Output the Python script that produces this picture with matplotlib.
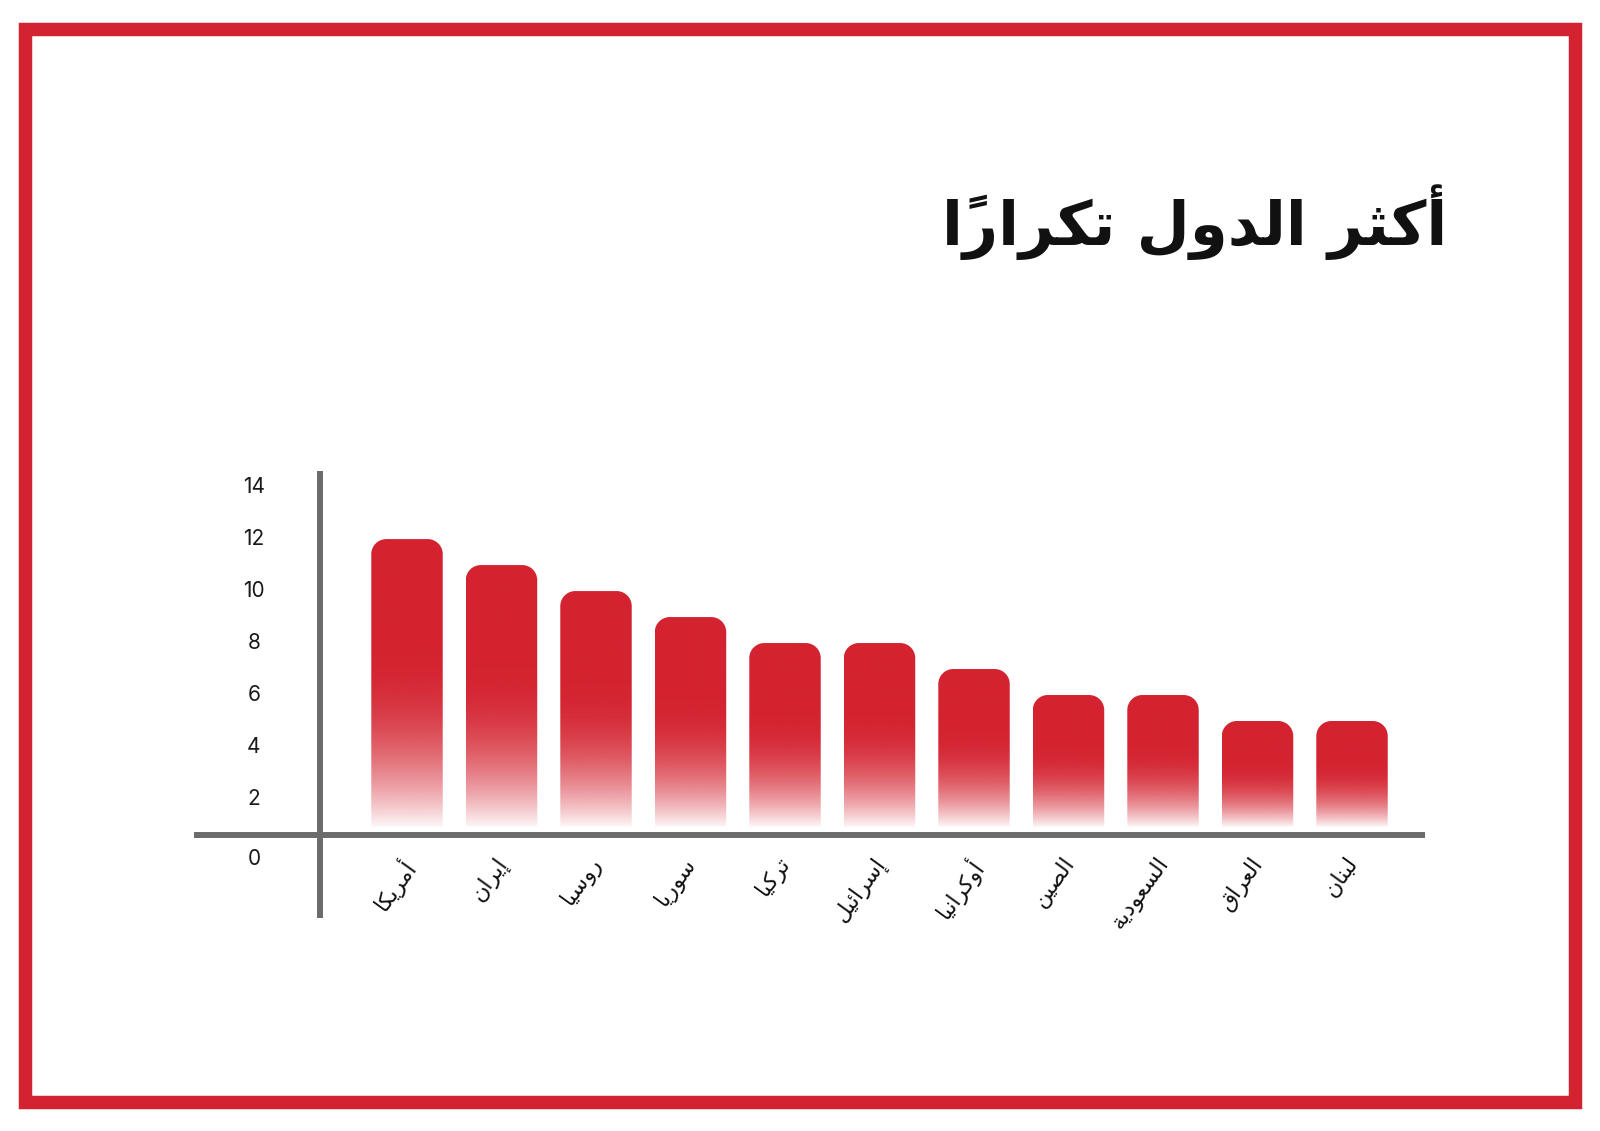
import numpy as np
import matplotlib
matplotlib.use("Agg")
import matplotlib.pyplot as plt
from matplotlib.path import Path
from matplotlib.patches import PathPatch, Rectangle
from matplotlib import transforms

# data
countries = ['أمريكا', 'إيران', 'روسيا', 'سوريا', 'تركيا', 'إسرائيل',
             'أوكرانيا', 'الصين', 'السعودية', 'العراق', 'لبنان']
counts = [12, 11, 10, 9, 8, 8, 7, 6, 6, 5, 5]
y_ticks = [0, 2, 4, 6, 8, 10, 12, 14]
title = 'أكثر الدول تكرارًا'

RED = '#d42330'
GREY = '#6b6b6b'

# matplotlib has no arabic shaping, so pick the presentation forms by hand
ARABIC_FORMS = {
    'ء': (0xFE80, 1), 'آ': (0xFE81, 2), 'أ': (0xFE83, 2), 'ؤ': (0xFE85, 2),
    'إ': (0xFE87, 2), 'ئ': (0xFE89, 4), 'ا': (0xFE8D, 2), 'ب': (0xFE8F, 4),
    'ة': (0xFE93, 2), 'ت': (0xFE95, 4), 'ث': (0xFE99, 4), 'ج': (0xFE9D, 4),
    'ح': (0xFEA1, 4), 'خ': (0xFEA5, 4), 'د': (0xFEA9, 2), 'ذ': (0xFEAB, 2),
    'ر': (0xFEAD, 2), 'ز': (0xFEAF, 2), 'س': (0xFEB1, 4), 'ش': (0xFEB5, 4),
    'ص': (0xFEB9, 4), 'ض': (0xFEBD, 4), 'ط': (0xFEC1, 4), 'ظ': (0xFEC5, 4),
    'ع': (0xFEC9, 4), 'غ': (0xFECD, 4), 'ف': (0xFED1, 4), 'ق': (0xFED5, 4),
    'ك': (0xFED9, 4), 'ل': (0xFEDD, 4), 'م': (0xFEE1, 4), 'ن': (0xFEE5, 4),
    'ه': (0xFEE9, 4), 'و': (0xFEED, 2), 'ى': (0xFEEF, 2), 'ي': (0xFEF1, 4),
}
LAM_ALEF = {'آ': 0xFEF5, 'أ': 0xFEF7, 'إ': 0xFEF9, 'ا': 0xFEFB}
MARKS = set(chr(c) for c in range(0x064B, 0x0653))


def shape_arabic(text):
    # group letters with their diacritics
    clusters = []
    for ch in text:
        if ch in MARKS and clusters:
            clusters[-1][1] += ch
        else:
            clusters.append([ch, ''])
    # lam + alef ligature
    merged = []
    i = 0
    while i < len(clusters):
        base, marks = clusters[i]
        if base == 'ل' and i + 1 < len(clusters) and clusters[i + 1][0] in LAM_ALEF:
            merged.append(['LA' + clusters[i + 1][0], marks + clusters[i + 1][1]])
            i += 2
        else:
            merged.append([base, marks])
            i += 1

    def kind(b):
        if b.startswith('LA'):
            return 'la'
        return ARABIC_FORMS.get(b, (0, 0))[1]

    out = []
    for i, (base, marks) in enumerate(merged):
        prev = merged[i - 1][0] if i > 0 else None
        nxt = merged[i + 1][0] if i + 1 < len(merged) else None
        joins_prev = prev is not None and kind(prev) == 4
        if base.startswith('LA'):
            g = chr(LAM_ALEF[base[2]] + (1 if joins_prev else 0))
        elif base in ARABIC_FORMS:
            start, n = ARABIC_FORMS[base]
            joins_next = n == 4 and nxt is not None and kind(nxt) in (2, 4, 'la')
            if n == 1:
                g = chr(start)
            elif joins_prev and joins_next:
                g = chr(start + 3)
            elif joins_prev:
                g = chr(start + 1)
            elif joins_next:
                g = chr(start + 2)
            else:
                g = chr(start)
        else:
            g = base
        # the mark is drawn from the pen position onwards, so put it first
        out.append(marks + g)
    return ''.join(out[::-1])


W, H = 1600, 1131
fig = plt.figure(figsize=(W / 100, H / 100), dpi=100)
fig.patch.set_facecolor('white')

# axes box in pixels of the figure
ax_left, ax_right, ax_top, ax_bottom = 194, 1424.5, 471, 918
ax = fig.add_axes([ax_left / W, 1 - ax_bottom / H,
                   (ax_right - ax_left) / W, (ax_bottom - ax_top) / H])
ax.set_facecolor('none')

x = np.arange(len(countries))
xlim = (-2.254, 10.767)
ylim = (-2.58, 14.62)
base_y = 0.63      # where the horizontal axis line sits
fade_end = 0.94    # bars stop a little above the line
y_axis_x = -0.916  # where the vertical axis line sits

bars = ax.bar(x, counts, width=0.756, color='none', edgecolor='none')

px_x = (ax_right - ax_left) / (xlim[1] - xlim[0])
px_y = (ax_bottom - ax_top) / (ylim[1] - ylim[0])
radius = 15
rx, ry = radius / px_x, radius / px_y
k = 0.5523

rgb = matplotlib.colors.to_rgb(RED)
for bar in bars:
    x0 = bar.get_x()
    x1 = x0 + bar.get_width()
    y1 = bar.get_height()
    y0 = fade_end
    verts = [(x0, y0), (x0, y1 - ry),
             (x0, y1 - ry + k * ry), (x0 + rx - k * rx, y1), (x0 + rx, y1),
             (x1 - rx, y1),
             (x1 - rx + k * rx, y1), (x1, y1 - ry + k * ry), (x1, y1 - ry),
             (x1, y0), (x0, y0)]
    codes = [Path.MOVETO, Path.LINETO,
             Path.CURVE4, Path.CURVE4, Path.CURVE4,
             Path.LINETO,
             Path.CURVE4, Path.CURVE4, Path.CURVE4,
             Path.LINETO, Path.CLOSEPOLY]
    clip = PathPatch(Path(verts, codes), facecolor='none', edgecolor='none',
                     transform=ax.transData)
    ax.add_patch(clip)

    n = 300
    yy = np.linspace(y0, y1, n)
    s = (yy - y0) / (y1 - y0)
    alpha = 1 - (1 - np.clip(s / 0.6, 0, 1)) ** 2
    alpha = 0.04 + 0.96 * alpha
    img = np.zeros((n, 1, 4))
    img[..., 0], img[..., 1], img[..., 2] = rgb
    img[:, 0, 3] = alpha
    im = ax.imshow(img, extent=[x0, x1, y0, y1], origin='lower',
                   aspect='auto', interpolation='bilinear', zorder=2)
    im.set_clip_path(clip)

ax.set_xlim(*xlim)
ax.set_ylim(*ylim)

# axis lines crossing like in the design
for side in ['top', 'right']:
    ax.spines[side].set_visible(False)
ax.spines['left'].set_position(('data', y_axis_x))
ax.spines['bottom'].set_position(('data', base_y))
for side in ['left', 'bottom']:
    ax.spines[side].set_color(GREY)
    ax.spines[side].set_linewidth(4.3)
    ax.spines[side].set_capstyle('butt')
    ax.spines[side].set_zorder(3)
ax.spines['left'].set_bounds(*ylim)
ax.spines['bottom'].set_bounds(*xlim)

ax.set_xticks([])
ax.set_yticks([])

# y tick labels
label_tr = transforms.blended_transform_factory(fig.transFigure, ax.transData)
for v in y_ticks:
    tr = label_tr
    if v == 0:
        tr = label_tr + transforms.ScaledTranslation(0, -8 / 100, fig.dpi_scale_trans)
    ax.text(254 / W, v, str(v), transform=tr, ha='center', va='center',
            fontsize=15, family='Inter', color='#1a1a1a', clip_on=False)

# x labels, rotated
xl_tr = transforms.blended_transform_factory(ax.transData, fig.transFigure)
for xi, name in zip(x, countries):
    ax.text(xi - 0.08, 1 - 853 / H, shape_arabic(name), transform=xl_tr,
            rotation=54, rotation_mode='anchor', ha='right', va='top',
            fontsize=16, family='DejaVu Sans', color='#111111', clip_on=False)

# title
fig.text(1447 / W, 1 - 222 / H, shape_arabic(title), ha='right', va='center',
         fontsize=44, fontweight='bold', family='DejaVu Sans', color='#111111')

# red frame
fig.add_artist(Rectangle((25 / W, 1 - 1101.5 / H), (1574.5 - 25) / W,
                         (1101.5 - 29) / H, transform=fig.transFigure,
                         fill=False, edgecolor=RED, linewidth=9.7,
                         joinstyle='miter'))

fig.savefig('out.png', dpi=100, facecolor='white')
